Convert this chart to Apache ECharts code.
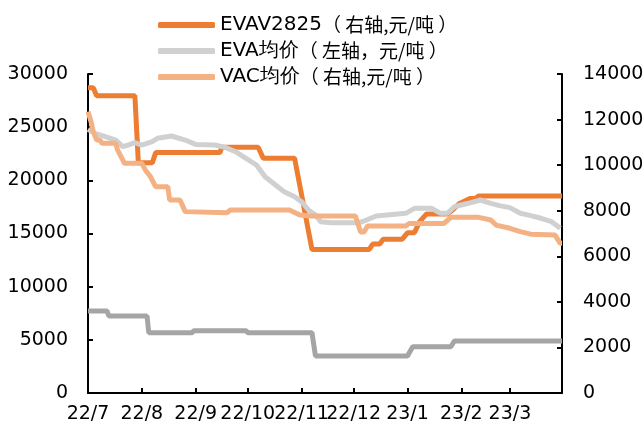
<!DOCTYPE html>
<html>
<head>
<meta charset="utf-8">
<script src="https://cdn.jsdelivr.net/npm/echarts@6/dist/echarts.min.js"></script>
<style>
  html, body { margin: 0; padding: 0; background: #fff; }
  #chart { width: 642px; height: 432px; }
</style>
</head>
<body>
<div id="chart"></div>
<script>
// 系列名称
const seriesNames = ['EVAV2825（右轴,元/吨）', 'EVA均价（左轴，元/吨）', 'VAC均价（右轴,元/吨）']

// EVAV2825 (右轴)
const evav2825 = [
  ['2022-07-01', 13400], ['2022-07-04', 13400], ['2022-07-06', 13050], ['2022-07-28', 13050],
  ['2022-07-30', 10100], ['2022-08-07', 10100], ['2022-08-09', 10550], ['2022-09-15', 10550],
  ['2022-09-16', 10780], ['2022-10-07', 10780], ['2022-10-10', 10300], ['2022-10-28', 10300],
  ['2022-11-07', 6300], ['2022-12-10', 6300], ['2022-12-12', 6540], ['2022-12-16', 6540],
  ['2022-12-18', 6750], ['2022-12-29', 6750], ['2023-01-01', 7030], ['2023-01-05', 7030],
  ['2023-01-08', 7520], ['2023-01-12', 7860], ['2023-01-24', 7860], ['2023-01-27', 8030],
  ['2023-01-28', 8030], ['2023-01-31', 8320], ['2023-02-06', 8540], ['2023-02-09', 8540],
  ['2023-02-11', 8650], ['2023-03-31', 8650]
]

// EVA均价 (左轴)
const evaAvg = [
  ['2022-07-01', 24800], ['2022-07-05', 24420], ['2022-07-11', 24100], ['2022-07-17', 23790],
  ['2022-07-21', 23170], ['2022-07-24', 23320], ['2022-07-28', 23540], ['2022-08-01', 23320],
  ['2022-08-07', 23640], ['2022-08-10', 23950], ['2022-08-18', 24170], ['2022-08-26', 23790],
  ['2022-09-01', 23380], ['2022-09-12', 23320], ['2022-09-18', 23100], ['2022-09-24', 22690],
  ['2022-09-30', 22070], ['2022-10-06', 21440], ['2022-10-11', 20340], ['2022-10-17', 19560],
  ['2022-10-22', 18930], ['2022-10-28', 18460], ['2022-11-01', 17990], ['2022-11-05', 17210],
  ['2022-11-09', 16740], ['2022-11-12', 16110], ['2022-11-18', 16020], ['2022-12-02', 16000],
  ['2022-12-06', 16110], ['2022-12-14', 16650], ['2022-12-31', 16900], ['2023-01-05', 17370],
  ['2023-01-15', 17370], ['2023-01-20', 16900], ['2023-01-24', 16900], ['2023-01-28', 17520],
  ['2023-02-05', 17840], ['2023-02-12', 18150], ['2023-02-18', 17840], ['2023-02-23', 17620],
  ['2023-03-01', 17430], ['2023-03-07', 16900], ['2023-03-13', 16680], ['2023-03-19', 16430],
  ['2023-03-25', 16110], ['2023-03-30', 15490]
]

// VAC均价 (右轴)
const vacAvg = [
  ['2022-07-01', 12350], ['2022-07-03', 11840], ['2022-07-04', 11470], ['2022-07-06', 11100],
  ['2022-07-08', 11100], ['2022-07-09', 10960], ['2022-07-17', 10960], ['2022-07-18', 10670],
  ['2022-07-21', 10230], ['2022-07-22', 10080], ['2022-08-01', 10080], ['2022-08-03', 9790],
  ['2022-08-06', 9490], ['2022-08-09', 9050], ['2022-08-16', 9050], ['2022-08-17', 8470],
  ['2022-08-23', 8470], ['2022-08-26', 7960], ['2022-09-19', 7910], ['2022-09-21', 8030],
  ['2022-10-25', 8030], ['2022-10-31', 7810], ['2022-11-06', 7770], ['2022-12-02', 7770],
  ['2022-12-05', 7070], ['2022-12-07', 7070], ['2022-12-09', 7330], ['2022-12-31', 7330],
  ['2023-01-02', 7440], ['2023-01-22', 7440], ['2023-01-26', 7710], ['2023-02-11', 7710],
  ['2023-02-18', 7590], ['2023-02-21', 7370], ['2023-03-01', 7230], ['2023-03-07', 7080],
  ['2023-03-13', 6970], ['2023-03-27', 6930], ['2023-03-30', 6570], ['2023-03-31', 6570]
]

// 底部灰线 (无图例)
const spread = [
  ['2022-07-01', 7700], ['2022-07-12', 7700], ['2022-07-13', 7240], ['2022-08-04', 7240],
  ['2022-08-05', 5670], ['2022-08-30', 5670], ['2022-08-31', 5860], ['2022-09-30', 5860],
  ['2022-10-01', 5670], ['2022-11-07', 5670], ['2022-11-09', 3480], ['2023-01-01', 3480],
  ['2023-01-04', 4350], ['2023-01-26', 4350], ['2023-01-28', 4890], ['2023-03-31', 4890]
]

const font = 'DejaVu Sans'

const chart = echarts.init(document.getElementById('chart'))

const plainNum = v => String(v)

const option = {
  animation: false,
  legend: {
    orient: 'vertical',
    left: 153,
    top: 10,
    itemGap: 6,
    itemWidth: 57,
    itemHeight: 6,
    icon: 'roundRect',
    data: seriesNames,
    formatter: function (name) {
      const i = name.indexOf('（')
      const tail = name.slice(i).replace('（', '（ ').replace('）', ' ）')
      return '{a|' + name.slice(0, i) + '}{b|' + tail + '}'
    },
    textStyle: {
      color: '#000',
      rich: {
        a: { fontFamily: font, fontSize: 20, color: '#000' },
        b: { fontFamily: 'Noto Sans CJK SC', fontSize: 19, color: '#000' }
      }
    }
  },
  grid: {
    left: 88,
    right: 80,
    top: 74,
    bottom: 39,
    outerBoundsMode: 'none'
  },
  xAxis: {
    type: 'time',
    min: '2022-07-01',
    max: '2023-03-31',
    minInterval: 28 * 86400000,
    maxInterval: 31 * 86400000,
    splitLine: { show: false },
    axisLine: { lineStyle: { color: '#000', width: 2 } },
    axisTick: { inside: true, length: 5, lineStyle: { color: '#000', width: 2 } },
    axisLabel: {
      color: '#000',
      fontFamily: font,
      fontSize: 19,
      margin: 12,
      showMinLabel: true,
      showMaxLabel: false,
      hideOverlap: false,
      formatter: function (val) {
        const d = new Date(val)
        return (d.getFullYear() % 100) + '/' + (d.getMonth() + 1)
      }
    }
  },
  yAxis: [
    {
      type: 'value',
      min: 0,
      max: 30000,
      interval: 5000,
      splitLine: { show: false },
      axisLine: { show: true, lineStyle: { color: '#000', width: 2 } },
      axisTick: { show: true, inside: true, length: 5, lineStyle: { color: '#000', width: 2 } },
      axisLabel: { color: '#000', fontFamily: font, fontSize: 19, margin: 20, formatter: plainNum }
    },
    {
      type: 'value',
      min: 0,
      max: 14000,
      interval: 2000,
      splitLine: { show: false },
      axisLine: { show: true, lineStyle: { color: '#000', width: 2 } },
      axisTick: { show: true, inside: true, length: 5, lineStyle: { color: '#000', width: 2 } },
      axisLabel: { color: '#000', fontFamily: font, fontSize: 19, margin: 21, formatter: plainNum }
    }
  ],
  series: [
    {
      name: seriesNames[0],
      type: 'line',
      yAxisIndex: 1,
      data: evav2825,
      symbol: 'none',
      itemStyle: { color: '#ED7D31' },
      lineStyle: { width: 5, color: '#ED7D31' }
    },
    {
      name: seriesNames[1],
      type: 'line',
      yAxisIndex: 0,
      data: evaAvg,
      symbol: 'none',
      itemStyle: { color: '#D0D0D0' },
      lineStyle: { width: 5, color: '#D0D0D0' }
    },
    {
      name: seriesNames[2],
      type: 'line',
      yAxisIndex: 1,
      data: vacAvg,
      symbol: 'none',
      itemStyle: { color: '#F4B183' },
      lineStyle: { width: 5, color: '#F4B183' }
    },
    {
      name: 'spread',
      type: 'line',
      yAxisIndex: 0,
      data: spread,
      symbol: 'none',
      itemStyle: { color: '#A5A5A5' },
      lineStyle: { width: 5, color: '#A5A5A5' }
    }
  ]
}

chart.setOption(option)
</script>
</body>
</html>
